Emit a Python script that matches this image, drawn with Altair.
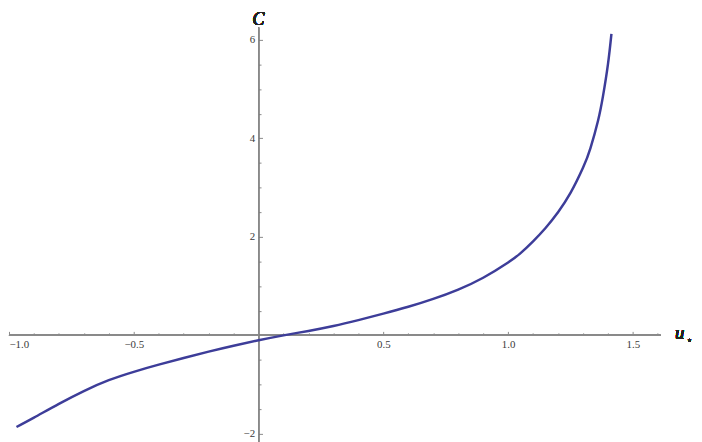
import altair as alt
import pandas as pd

# Curve
u_vals = [-0.97, -0.9, -0.8, -0.7, -0.6, -0.5, -0.4, -0.3, -0.2, -0.1, 0.0, 0.1, 0.2, 0.3,
          0.4, 0.5, 0.6, 0.7, 0.8, 0.9, 1.0, 1.05, 1.1, 1.15, 1.2, 1.25, 1.3, 1.33, 1.36,
          1.38, 1.40, 1.414]
c_vals = [-1.86, -1.67, -1.39, -1.13, -0.91, -0.74, -0.595, -0.46, -0.33, -0.21, -0.10, 0.0,
          0.09, 0.19, 0.31, 0.44, 0.58, 0.74, 0.93, 1.17, 1.48, 1.67, 1.91, 2.18, 2.50, 2.89,
          3.40, 3.80, 4.35, 4.85, 5.50, 6.12]

x_major = [-1.0, -0.5, 0.5, 1.0, 1.5]
x_minor = [-0.9, -0.8, -0.7, -0.6, -0.4, -0.3, -0.2, -0.1, 0.1, 0.2, 0.3, 0.4,
           0.6, 0.7, 0.8, 0.9, 1.1, 1.2, 1.3, 1.4, 1.6]
y_major = [-2, 2, 4, 6]
y_minor = [-1.5, -1.0, -0.5, 0.5, 1.0, 1.5, 2.5, 3.0, 3.5, 4.5, 5.0, 5.5]

X_DOMAIN = [-1.0, 1.61]
Y_DOMAIN = [-2.08, 6.6]
W, H = 658, 432

df = pd.DataFrame({"u": u_vals, "C": c_vals})

px_x = W / (X_DOMAIN[1] - X_DOMAIN[0])
px_y = H / (Y_DOMAIN[1] - Y_DOMAIN[0])
x0 = (0 - X_DOMAIN[0]) * px_x          # plot x of u = 0
y0 = (Y_DOMAIN[1] - 0) * px_y          # plot y of C = 0

xs = alt.Scale(domain=X_DOMAIN, nice=False, zero=False)
ys = alt.Scale(domain=Y_DOMAIN, nice=False, zero=False)

AX = "#8a8a8a"
LAB = "#3a3a3a"
FONT = "Liberation Serif"

major_x_axis = alt.Axis(orient="bottom", values=x_major, format=".1f", title=None, grid=False,
                        domain=False, tickSize=4, tickColor=AX, tickWidth=1,
                        offset=-(H - y0 + 4), labelPadding=3, labelFont=FONT,
                        labelFontSize=11, labelColor=LAB, labelFlush=True)
major_y_axis = alt.Axis(orient="left", values=y_major, format="d", title=None, grid=False,
                        domain=False, tickSize=4, tickColor=AX, tickWidth=1,
                        offset=-(x0 + 4), labelPadding=4, labelFont=FONT,
                        labelFontSize=11, labelColor=LAB)
minor_x_axis = alt.Axis(orient="bottom", values=x_minor, labels=False, title=None, grid=False,
                        domain=False, tickSize=2.5, tickColor=AX, tickWidth=1,
                        offset=-(H - y0 + 2.5))
minor_y_axis = alt.Axis(orient="left", values=y_minor, labels=False, title=None, grid=False,
                        domain=False, tickSize=2.5, tickColor=AX, tickWidth=1,
                        offset=-(x0 + 2.5))

base = alt.Chart(df)

curve = base.mark_line(color="#3d3d99", strokeWidth=2.5, interpolate="natural").encode(
    x=alt.X("u:Q", scale=xs, axis=major_x_axis),
    y=alt.Y("C:Q", scale=ys, axis=major_y_axis),
)

minor = base.mark_point(opacity=0).encode(
    x=alt.X("u:Q", scale=xs, axis=minor_x_axis),
    y=alt.Y("C:Q", scale=ys, axis=minor_y_axis),
)

xline = alt.Chart(df).mark_rule(color=AX, strokeWidth=1).encode(
    y=alt.Y(datum=0, scale=ys, axis=None),
)
yline = alt.Chart(df).mark_rule(color=AX, strokeWidth=1).encode(
    x=alt.X(datum=0, scale=xs, axis=None),
    y=alt.Y(datum=Y_DOMAIN[0] - 0.1, scale=ys, axis=None),
    y2=alt.Y2(datum=6.25),
)

c_label = alt.Chart(df).mark_text(text="C", font=FONT, fontStyle="italic", fontSize=18,
                                  fontWeight="normal", color="#222222", align="center",
                                  baseline="middle").encode(
    x=alt.X(datum=0.0, scale=xs, axis=None),
    y=alt.Y(datum=6.41, scale=ys, axis=None),
)
u_label = alt.Chart(df).mark_text(text="u", font=FONT, fontStyle="italic", fontSize=19,
                                  fontWeight="normal", color="#222222", align="center",
                                  baseline="middle").encode(
    x=alt.X(datum=1.688, scale=xs, axis=None),
    y=alt.Y(datum=0.05, scale=ys, axis=None),
)
star_label = alt.Chart(df).mark_text(text="⋆", font="DejaVu Sans", fontSize=9,
                                     color="#222222", align="center", baseline="middle").encode(
    x=alt.X(datum=1.727, scale=xs, axis=None),
    y=alt.Y(datum=-0.09, scale=ys, axis=None),
)

chart = alt.layer(xline, yline, minor, curve, c_label, u_label, star_label).resolve_axis(
    x="independent", y="independent"
).properties(
    width=W, height=H,
    autosize=alt.AutoSizeParams(type="none"),
    padding={"left": 1, "top": 0, "right": 34, "bottom": 2},
).configure_view(stroke=None)

chart.save("out.html", embed_options={"renderer": "svg", "actions": False})
